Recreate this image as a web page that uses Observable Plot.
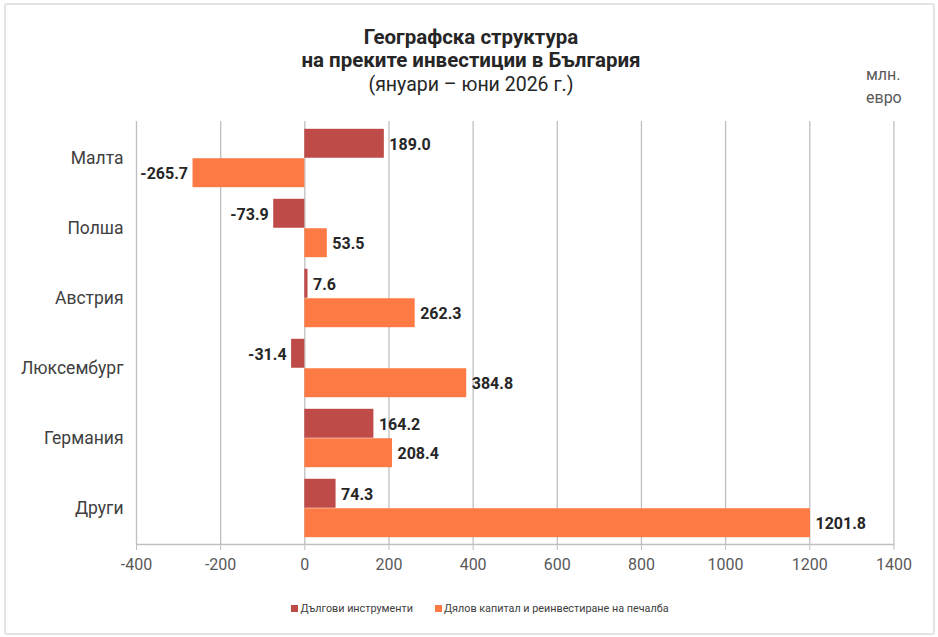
<!DOCTYPE html>
<html>
<head>
<meta charset="utf-8">
<script src="https://cdn.jsdelivr.net/npm/d3@7"></script>
<script src="https://cdn.jsdelivr.net/npm/@observablehq/plot@0.6"></script>
<style>
  html, body { margin: 0; padding: 0; background: #fff; }
  body { width: 938px; height: 637px; position: relative; overflow: hidden; font-family: Roboto, "Liberation Sans", sans-serif; }
  #border { position: absolute; left: 4px; top: 3px; width: 927px; height: 628px; border: 2px solid #e4e4e4; border-radius: 3px; }
  .title { position: absolute; left: 0; width: 942px; text-align: center; color: #262626; font-size: 20px; line-height: 23px; }
  #unit { position: absolute; left: 866px; top: 63px; color: #595959; font-size: 16px; line-height: 23px; }
  #chart { position: absolute; left: 0; top: 0; }
  #legend { position: absolute; top: 602px; left: 0; width: 938px; display: flex; justify-content: center; gap: 22px; font-size: 10.8px; color: #404040; padding-left: 22px; box-sizing: border-box; }
  #legend span.sw { display: inline-block; width: 7px; height: 7px; margin-right: 2px; vertical-align: 0px; }
</style>
</head>
<body>
<div id="border"></div>
<div class="title" style="top:26px;font-weight:bold;font-size:20.5px">Географска структура</div>
<div class="title" style="top:49px;font-weight:bold;font-size:20.5px">на преките инвестиции в България</div>
<div class="title" style="top:73px;font-size:19.5px">(януари – юни 2026 г.)</div>
<div id="unit">млн.<br>евро</div>
<div id="chart"></div>
<div id="legend"></div>
<script>
const countries = ["Малта", "Полша", "Австрия", "Люксембург", "Германия", "Други"];
const seriesNames = ["Дългови инструменти", "Дялов капитал и реинвестиране на печалба"];
const debtValues = [189.0, -73.9, 7.6, -31.4, 164.2, 74.3];
const equityValues = [-265.7, 53.5, 262.3, 384.8, 208.4, 1201.8];
const xTicks = [-400, -200, 0, 200, 400, 600, 800, 1000, 1200, 1400];
const colors = ["#BF4B48", "#FD7A44"];

const debt = countries.map((c, i) => ({country: c, value: debtValues[i]}));
const equity = countries.map((c, i) => ({country: c, value: equityValues[i]}));

const half = 35.25, pad = 5.8;
const labelMarks = (data, dy) => [
  Plot.text(data.filter(d => d.value >= 0), {
    x: "value", y: "country", dy, dx: 5, text: d => d.value.toFixed(1),
    textAnchor: "start", fill: "#262626", fontWeight: "bold", fontSize: 16
  }),
  Plot.text(data.filter(d => d.value < 0), {
    x: "value", y: "country", dy, dx: -5, text: d => d.value.toFixed(1),
    textAnchor: "end", fill: "#262626", fontWeight: "bold", fontSize: 16
  })
];

const plot = Plot.plot({
  width: 938,
  height: 590,
  marginTop: 121,
  marginBottom: 46,
  marginLeft: 136,
  marginRight: 44.6,
  style: {fontFamily: "Roboto, 'Liberation Sans', sans-serif", background: "transparent", overflow: "visible"},
  x: {domain: [-400, 1400], ticks: xTicks, label: null},
  y: {domain: countries, padding: 0, label: null},
  marks: [
    Plot.ruleX(xTicks, {stroke: "#bfbfbf", strokeWidth: 1.3}),
    Plot.barX(debt, {x: "value", y: "country", fill: colors[0], insetTop: pad, insetBottom: half}),
    Plot.barX(equity, {x: "value", y: "country", fill: colors[1], insetTop: half, insetBottom: pad}),
    ...labelMarks(debt, -14),
    ...labelMarks(equity, 15),
    Plot.frame({anchor: "bottom", stroke: "#bfbfbf", strokeWidth: 1.3}),
    Plot.axisX({ticks: xTicks, tickSize: 6, tickPadding: 8, fontSize: 16, stroke: "#bfbfbf", color: "#595959", tickFormat: d => String(d), label: null}),
    Plot.axisY({tickSize: 0, tickPadding: 13, fontSize: 17.5, color: "#404040", label: null})
  ]
});
document.getElementById("chart").appendChild(plot);

const legend = document.getElementById("legend");
seriesNames.forEach((n, i) => {
  const item = document.createElement("div");
  item.innerHTML = `<span class="sw" style="background:${colors[i]}"></span>${n}`;
  legend.appendChild(item);
});
</script>
</body>
</html>
